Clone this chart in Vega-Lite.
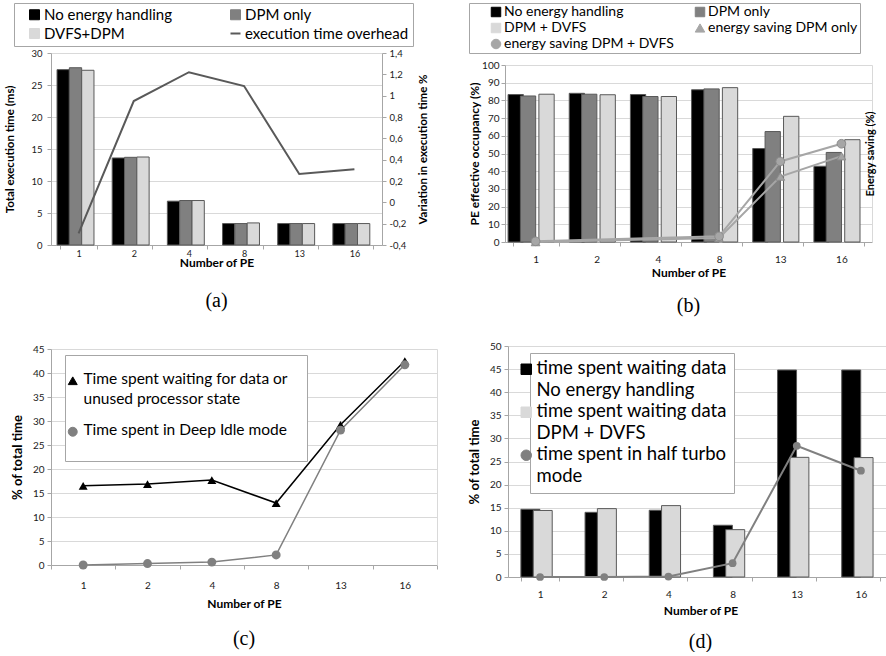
{
  "$schema": "https://vega.github.io/schema/vega-lite/v6.json",
  "background": "white",
  "padding": {"left": 4, "top": 2, "right": 0, "bottom": 0},
  "datasets": {
    "a_bars": [
      {"PE": 1, "series": "No energy handling", "time": 27.4},
      {"PE": 1, "series": "DPM only", "time": 27.7},
      {"PE": 1, "series": "DVFS+DPM", "time": 27.3},
      {"PE": 2, "series": "No energy handling", "time": 13.6},
      {"PE": 2, "series": "DPM only", "time": 13.7},
      {"PE": 2, "series": "DVFS+DPM", "time": 13.75},
      {"PE": 4, "series": "No energy handling", "time": 6.85},
      {"PE": 4, "series": "DPM only", "time": 6.95},
      {"PE": 4, "series": "DVFS+DPM", "time": 6.95},
      {"PE": 8, "series": "No energy handling", "time": 3.35},
      {"PE": 8, "series": "DPM only", "time": 3.35},
      {"PE": 8, "series": "DVFS+DPM", "time": 3.45},
      {"PE": 13, "series": "No energy handling", "time": 3.35},
      {"PE": 13, "series": "DPM only", "time": 3.35},
      {"PE": 13, "series": "DVFS+DPM", "time": 3.35},
      {"PE": 16, "series": "No energy handling", "time": 3.35},
      {"PE": 16, "series": "DPM only", "time": 3.35},
      {"PE": 16, "series": "DVFS+DPM", "time": 3.35}
    ],
    "a_line": [
      {"PE": 1, "series": "execution time overhead", "overhead": -0.29},
      {"PE": 2, "series": "execution time overhead", "overhead": 0.95},
      {"PE": 4, "series": "execution time overhead", "overhead": 1.22},
      {"PE": 8, "series": "execution time overhead", "overhead": 1.09},
      {"PE": 13, "series": "execution time overhead", "overhead": 0.265},
      {"PE": 16, "series": "execution time overhead", "overhead": 0.31}
    ],
    "b_bars": [
      {"PE": 1, "series": "No energy handling", "occupancy": 83.3},
      {"PE": 1, "series": "DPM only", "occupancy": 82.5},
      {"PE": 1, "series": "DPM + DVFS", "occupancy": 83.5},
      {"PE": 2, "series": "No energy handling", "occupancy": 84.0},
      {"PE": 2, "series": "DPM only", "occupancy": 83.5},
      {"PE": 2, "series": "DPM + DVFS", "occupancy": 83.2},
      {"PE": 4, "series": "No energy handling", "occupancy": 83.3},
      {"PE": 4, "series": "DPM only", "occupancy": 82.2},
      {"PE": 4, "series": "DPM + DVFS", "occupancy": 82.2},
      {"PE": 8, "series": "No energy handling", "occupancy": 86.0},
      {"PE": 8, "series": "DPM only", "occupancy": 86.5},
      {"PE": 8, "series": "DPM + DVFS", "occupancy": 87.2},
      {"PE": 13, "series": "No energy handling", "occupancy": 52.8},
      {"PE": 13, "series": "DPM only", "occupancy": 62.4},
      {"PE": 13, "series": "DPM + DVFS", "occupancy": 71.0},
      {"PE": 16, "series": "No energy handling", "occupancy": 42.8},
      {"PE": 16, "series": "DPM only", "occupancy": 50.6},
      {"PE": 16, "series": "DPM + DVFS", "occupancy": 57.8}
    ],
    "b_lines": [
      {"PE": 1, "series": "energy saving DPM only", "saving": 0},
      {"PE": 8, "series": "energy saving DPM only", "saving": 2.3},
      {"PE": 13, "series": "energy saving DPM only", "saving": 37.0},
      {"PE": 16, "series": "energy saving DPM only", "saving": 48.5},
      {"PE": 1, "series": "energy saving DPM + DVFS", "saving": 0.4},
      {"PE": 8, "series": "energy saving DPM + DVFS", "saving": 3.2},
      {"PE": 13, "series": "energy saving DPM + DVFS", "saving": 45.5},
      {"PE": 16, "series": "energy saving DPM + DVFS", "saving": 55.5}
    ],
    "c_lines": [
      {"PE": 1, "series": "Time spent waiting for data or unused processor state", "pct": 16.5},
      {"PE": 2, "series": "Time spent waiting for data or unused processor state", "pct": 16.85},
      {"PE": 4, "series": "Time spent waiting for data or unused processor state", "pct": 17.7},
      {"PE": 8, "series": "Time spent waiting for data or unused processor state", "pct": 12.9},
      {"PE": 13, "series": "Time spent waiting for data or unused processor state", "pct": 29.2},
      {"PE": 16, "series": "Time spent waiting for data or unused processor state", "pct": 42.5},
      {"PE": 1, "series": "Time spent in Deep Idle mode", "pct": 0.0},
      {"PE": 2, "series": "Time spent in Deep Idle mode", "pct": 0.3},
      {"PE": 4, "series": "Time spent in Deep Idle mode", "pct": 0.6},
      {"PE": 8, "series": "Time spent in Deep Idle mode", "pct": 2.1},
      {"PE": 13, "series": "Time spent in Deep Idle mode", "pct": 28.1},
      {"PE": 16, "series": "Time spent in Deep Idle mode", "pct": 41.7}
    ],
    "d_bars": [
      {"PE": 1, "series": "time spent waiting data No energy handling", "pct": 14.65},
      {"PE": 1, "series": "time spent waiting data DPM + DVFS", "pct": 14.4},
      {"PE": 2, "series": "time spent waiting data No energy handling", "pct": 14.0},
      {"PE": 2, "series": "time spent waiting data DPM + DVFS", "pct": 14.8},
      {"PE": 4, "series": "time spent waiting data No energy handling", "pct": 14.45},
      {"PE": 4, "series": "time spent waiting data DPM + DVFS", "pct": 15.45},
      {"PE": 8, "series": "time spent waiting data No energy handling", "pct": 11.2},
      {"PE": 8, "series": "time spent waiting data DPM + DVFS", "pct": 10.25},
      {"PE": 13, "series": "time spent waiting data No energy handling", "pct": 44.8},
      {"PE": 13, "series": "time spent waiting data DPM + DVFS", "pct": 25.9},
      {"PE": 16, "series": "time spent waiting data No energy handling", "pct": 44.8},
      {"PE": 16, "series": "time spent waiting data DPM + DVFS", "pct": 25.85}
    ],
    "d_line": [
      {"PE": 1, "series": "time spent in half turbo mode", "pct": 0.0},
      {"PE": 2, "series": "time spent in half turbo mode", "pct": 0.0},
      {"PE": 4, "series": "time spent in half turbo mode", "pct": 0.1},
      {"PE": 8, "series": "time spent in half turbo mode", "pct": 3.0},
      {"PE": 13, "series": "time spent in half turbo mode", "pct": 28.4},
      {"PE": 16, "series": "time spent in half turbo mode", "pct": 23.0}
    ]
  },
  "config": {
    "font": "Lato",
    "view": {"stroke": null},
    "axis": {
      "labelFont": "Lato", "labelColor": "#1a1a1a", "labelFontSize": 10,
      "titleFont": "Lato", "titleFontWeight": "bold", "titleColor": "#000000", "titleFontSize": 12,
      "domainColor": "#a6a6a6", "tickColor": "#a6a6a6", "gridColor": "#d9d9d9", "tickSize": 4
    },
    "legend": {"labelFont": "Lato", "labelColor": "#000000", "labelLimit": 500},
    "title": {"font": "Liberation Serif", "fontSize": 20, "fontWeight": "normal", "color": "#000000", "orient": "bottom", "anchor": "middle", "offset": 12}
  },
  "columns": 2,
  "align": "none",
  "spacing": {"row": 25, "column": 30},
  "resolve": {"scale": {"color": "independent", "shape": "independent"}, "legend": {"color": "independent", "shape": "independent"}},
  "concat": [
    {
      "width": 331, "height": 192,
      "title": {"text": "(a)", "offset": 23},
      "encoding": {
        "x": {"field": "PE", "type": "ordinal", "scale": {"type": "band", "paddingInner": 0.33, "paddingOuter": 0.165},
              "axis": {"title": "Number of PE", "labelAngle": 0, "tickBand": "extent", "labelFontSize": 9, "labelPadding": 0, "titlePadding": -1, "titleFontSize": 12}}
      },
      "layer": [
        {
          "data": {"name": "a_bars"},
          "mark": {"type": "bar", "stroke": "#595959", "strokeWidth": 1, "width": 12.3},
          "encoding": {
            "xOffset": {"field": "series", "type": "nominal", "sort": ["No energy handling", "DPM only", "DVFS+DPM"], "scale": {"paddingInner": 0, "paddingOuter": 0}},
            "y": {"field": "time", "type": "quantitative", "scale": {"domain": [0, 30]},
                  "axis": {"title": "Total execution time (ms)", "values": [0, 5, 10, 15, 20, 25, 30], "grid": true, "labelFontSize": 9.5, "labelPadding": 5, "titlePadding": 15, "titleFontSize": 11.5}},
            "color": {"field": "series", "type": "nominal",
              "scale": {"domain": ["No energy handling", "DPM only", "DVFS+DPM", "execution time overhead"], "range": ["#000000", "#808080", "#d9d9d9", "#595959"]},
              "legend": {
                "title": null, "orient": "none", "legendX": -37, "legendY": -50, "columns": 2, "direction": "horizontal",
                "labelFontSize": 15, "symbolSize": 100, "symbolOffset": 9, "columnPadding": 46, "rowPadding": 3, "padding": 4, "labelOffset": 2,
                "strokeColor": "#a6a6a6", "fillColor": "#ffffff",
                "encode": {"symbols": {"update": {
                  "shape": {"signal": "datum.value === 'execution time overhead' ? 'stroke' : 'square'"},
                  "fill": {"signal": "datum.value === 'No energy handling' ? '#000000' : datum.value === 'DPM only' ? '#808080' : datum.value === 'DVFS+DPM' ? '#d9d9d9' : 'transparent'"},
                  "stroke": {"value": "#595959"},
                  "strokeWidth": {"signal": "datum.value === 'execution time overhead' ? 2 : 1"},
                  "opacity": {"value": 1}
                }}}
              }}
          }
        },
        {
          "data": {"name": "a_line"},
          "mark": {"type": "line", "strokeWidth": 2},
          "encoding": {
            "y": {"field": "overhead", "type": "quantitative", "scale": {"domain": [-0.4, 1.4]},
                  "axis": {"orient": "right", "title": "Variation in execution time %", "titleAngle": 270, "values": [-0.4, -0.2, 0, 0.2, 0.4, 0.6, 0.8, 1, 1.2, 1.4], "grid": false,
                           "labelExpr": "replace(replace(format(datum.value, '.1~f'), '.', ','), '\u2212', '-')",
                           "labelFontSize": 9.5, "labelPadding": 3, "titlePadding": 23, "titleFontSize": 11.5}},
            "color": {"field": "series", "type": "nominal",
              "legend": {
                "title": null, "orient": "none", "legendX": -37, "legendY": -50, "columns": 2, "direction": "horizontal",
                "labelFontSize": 15, "symbolSize": 100, "symbolOffset": 9, "columnPadding": 46, "rowPadding": 3, "padding": 4, "labelOffset": 2,
                "strokeColor": "#a6a6a6", "fillColor": "#ffffff",
                "encode": {"symbols": {"update": {
                  "shape": {"signal": "datum.value === 'execution time overhead' ? 'stroke' : 'square'"},
                  "fill": {"signal": "datum.value === 'No energy handling' ? '#000000' : datum.value === 'DPM only' ? '#808080' : datum.value === 'DVFS+DPM' ? '#d9d9d9' : 'transparent'"},
                  "stroke": {"value": "#595959"},
                  "strokeWidth": {"signal": "datum.value === 'execution time overhead' ? 2 : 1"},
                  "opacity": {"value": 1}
                }}}
              }}
          }
        }
      ],
      "resolve": {"scale": {"y": "independent"}}
    },
    {
      "width": 367, "height": 189,
      "title": {"text": "(b)", "offset": 18},
      "encoding": {
        "x": {"field": "PE", "type": "ordinal", "scale": {"type": "band", "paddingInner": 0.25, "paddingOuter": 0.125},
              "axis": {"title": "Number of PE", "labelAngle": 0, "tickBand": "extent", "labelFontSize": 10, "labelPadding": 8, "titlePadding": 3, "titleFontSize": 12}}
      },
      "layer": [
        {
          "data": {"name": "b_bars"},
          "mark": {"type": "bar", "stroke": "#595959", "strokeWidth": 1, "width": 15.3},
          "encoding": {
            "xOffset": {"field": "series", "type": "nominal", "sort": ["No energy handling", "DPM only", "DPM + DVFS"], "scale": {"paddingInner": 0, "paddingOuter": 0}},
            "y": {"field": "occupancy", "type": "quantitative", "scale": {"domain": [0, 100], "range": [189, 12]},
                  "axis": {"title": "PE effective occupancy (%)", "values": [0, 10, 20, 30, 40, 50, 60, 70, 80, 90, 100], "grid": true, "labelFontSize": 10, "labelPadding": 2, "titlePadding": 0, "titleFontSize": 12}},
            "color": {"field": "series", "type": "nominal",
              "scale": {"domain": ["No energy handling", "DPM only", "DPM + DVFS", "energy saving DPM only", "energy saving DPM + DVFS"], "range": ["#000000", "#808080", "#d9d9d9", "#a6a6a6", "#a6a6a6"]},
              "legend": {
                "title": null, "orient": "none", "legendX": -36, "legendY": -50, "columns": 2, "direction": "horizontal",
                "labelFontSize": 14, "symbolSize": 90, "symbolOffset": 18, "columnPadding": -4, "rowPadding": 2, "padding": 2, "labelOffset": 1,
                "strokeColor": "#a6a6a6", "fillColor": "#ffffff",
                "encode": {"symbols": {"update": {
                  "shape": {"signal": "datum.value === 'energy saving DPM only' ? 'triangle-up' : datum.value === 'energy saving DPM + DVFS' ? 'circle' : 'square'"},
                  "fill": {"signal": "datum.value === 'No energy handling' ? '#000000' : datum.value === 'DPM only' ? '#808080' : datum.value === 'DPM + DVFS' ? '#d9d9d9' : '#a6a6a6'"},
                  "stroke": {"signal": "indexof(datum.value, 'energy saving') === 0 ? '#8c8c8c' : '#595959'"},
                  "strokeWidth": {"value": 1},
                  "opacity": {"value": 1}
                }}}
              }}
          }
        },
        {
          "data": {"name": "b_lines"},
          "mark": {"type": "line", "strokeWidth": 2},
          "encoding": {
            "y": {"field": "saving", "type": "quantitative", "scale": {"domain": [0, 100], "range": [189, 12]},
                  "axis": {"orient": "right", "title": "Energy saving (%)", "titleAngle": 270, "labels": false, "ticks": false, "grid": false, "domainColor": "#d9d9d9", "titlePadding": 3, "titleFontSize": 11}},
            "color": {"field": "series", "type": "nominal",
              "legend": {
                "title": null, "orient": "none", "legendX": -36, "legendY": -50, "columns": 2, "direction": "horizontal",
                "labelFontSize": 14, "symbolSize": 90, "symbolOffset": 18, "columnPadding": -4, "rowPadding": 2, "padding": 2, "labelOffset": 1,
                "strokeColor": "#a6a6a6", "fillColor": "#ffffff",
                "encode": {"symbols": {"update": {
                  "shape": {"signal": "datum.value === 'energy saving DPM only' ? 'triangle-up' : datum.value === 'energy saving DPM + DVFS' ? 'circle' : 'square'"},
                  "fill": {"signal": "datum.value === 'No energy handling' ? '#000000' : datum.value === 'DPM only' ? '#808080' : datum.value === 'DPM + DVFS' ? '#d9d9d9' : '#a6a6a6'"},
                  "stroke": {"signal": "indexof(datum.value, 'energy saving') === 0 ? '#8c8c8c' : '#595959'"},
                  "strokeWidth": {"value": 1},
                  "opacity": {"value": 1}
                }}}
              }}
          }
        },
        {
          "data": {"name": "b_lines"},
          "mark": {"type": "point", "filled": true, "size": 75, "stroke": "#8c8c8c", "strokeWidth": 1, "opacity": 1},
          "encoding": {
            "y": {"field": "saving", "type": "quantitative", "scale": {"domain": [0, 100], "range": [189, 12]}, "axis": null},
            "color": {"field": "series", "type": "nominal",
              "legend": {
                "title": null, "orient": "none", "legendX": -36, "legendY": -50, "columns": 2, "direction": "horizontal",
                "labelFontSize": 14, "symbolSize": 90, "symbolOffset": 18, "columnPadding": -4, "rowPadding": 2, "padding": 2, "labelOffset": 1,
                "strokeColor": "#a6a6a6", "fillColor": "#ffffff",
                "encode": {"symbols": {"update": {
                  "shape": {"signal": "datum.value === 'energy saving DPM only' ? 'triangle-up' : datum.value === 'energy saving DPM + DVFS' ? 'circle' : 'square'"},
                  "fill": {"signal": "datum.value === 'No energy handling' ? '#000000' : datum.value === 'DPM only' ? '#808080' : datum.value === 'DPM + DVFS' ? '#d9d9d9' : '#a6a6a6'"},
                  "stroke": {"signal": "indexof(datum.value, 'energy saving') === 0 ? '#8c8c8c' : '#595959'"},
                  "strokeWidth": {"value": 1},
                  "opacity": {"value": 1}
                }}}
              }},
            "shape": {"field": "series", "type": "nominal", "scale": {"domain": ["energy saving DPM only", "energy saving DPM + DVFS"], "range": ["triangle-up", "circle"]}, "legend": null}
          }
        }
      ],
      "resolve": {"scale": {"y": "independent"}}
    },
    {
      "width": 386, "height": 224,
      "title": {"text": "(c)", "offset": 20},
      "encoding": {
        "x": {"field": "PE", "type": "ordinal", "scale": {"type": "band", "paddingInner": 0, "paddingOuter": 0},
              "axis": {"title": "Number of PE", "labelAngle": 0, "tickBand": "extent", "labelFontSize": 10, "labelPadding": 11, "titlePadding": 8, "titleFontSize": 12}},
        "y": {"field": "pct", "type": "quantitative", "scale": {"domain": [0, 45], "range": [224, 8]},
              "axis": {"title": "% of total time", "values": [0, 5, 10, 15, 20, 25, 30, 35, 40, 45], "grid": true, "labelFontSize": 10, "labelPadding": 3, "titlePadding": 8, "titleFontSize": 13}}
      },
      "layer": [
        {
          "data": {"name": "c_lines"},
          "mark": {"type": "line", "strokeWidth": 1.5},
          "encoding": {
            "color": {"field": "series", "type": "nominal",
              "scale": {"domain": ["Time spent waiting for data or unused processor state", "Time spent in Deep Idle mode"], "range": ["#000000", "#808080"]},
              "legend": {
                "title": " ", "titleOrient": "bottom", "titleFontSize": 5, "titlePadding": 0,
                "orient": "none", "legendX": 14, "legendY": 14,
                "labelFontSize": 15.5, "symbolSize": 80, "symbolOffset": -18, "rowPadding": 14, "padding": 18, "labelOffset": 3,
                "labelBaseline": "top",
                "labelExpr": "datum.label === 'Time spent waiting for data or unused processor state' ? ['Time spent waiting for data or', 'unused processor state'] : datum.label",
                "strokeColor": "#a6a6a6", "fillColor": "#ffffff",
                "encode": {
                  "symbols": {"update": {
                    "shape": {"signal": "datum.value === 'Time spent in Deep Idle mode' ? 'circle' : 'triangle-up'"},
                    "fill": {"signal": "datum.value === 'Time spent in Deep Idle mode' ? '#808080' : '#000000'"},
                    "stroke": {"signal": "datum.value === 'Time spent in Deep Idle mode' ? '#808080' : '#000000'"},
                    "strokeWidth": {"value": 1},
                    "opacity": {"value": 1}
                  }},
                  "labels": {"update": {"dy": {"value": -9}, "lineHeight": {"value": 20}}}
                }
              }}
          }
        },
        {
          "data": {"name": "c_lines"},
          "mark": {"type": "point", "filled": true, "size": 80, "opacity": 1},
          "encoding": {
            "y": {"field": "pct", "type": "quantitative",
                  "axis": {"orient": "right", "title": null, "labels": false, "ticks": false, "grid": false, "domainColor": "#d9d9d9"}},
            "color": {"field": "series", "type": "nominal",
              "legend": {
                "title": " ", "titleOrient": "bottom", "titleFontSize": 5, "titlePadding": 0,
                "orient": "none", "legendX": 14, "legendY": 14,
                "labelFontSize": 15.5, "symbolSize": 80, "symbolOffset": -18, "rowPadding": 14, "padding": 18, "labelOffset": 3,
                "labelBaseline": "top",
                "labelExpr": "datum.label === 'Time spent waiting for data or unused processor state' ? ['Time spent waiting for data or', 'unused processor state'] : datum.label",
                "strokeColor": "#a6a6a6", "fillColor": "#ffffff",
                "encode": {
                  "symbols": {"update": {
                    "shape": {"signal": "datum.value === 'Time spent in Deep Idle mode' ? 'circle' : 'triangle-up'"},
                    "fill": {"signal": "datum.value === 'Time spent in Deep Idle mode' ? '#808080' : '#000000'"},
                    "stroke": {"signal": "datum.value === 'Time spent in Deep Idle mode' ? '#808080' : '#000000'"},
                    "strokeWidth": {"value": 1},
                    "opacity": {"value": 1}
                  }},
                  "labels": {"update": {"dy": {"value": -9}, "lineHeight": {"value": 20}}}
                }
              }},
            "shape": {"field": "series", "type": "nominal", "scale": {"domain": ["Time spent waiting for data or unused processor state", "Time spent in Deep Idle mode"], "range": ["triangle-up", "circle"]}, "legend": null}
          }
        }
      ],
      "resolve": {"axis": {"y": "independent"}}
    },
    {
      "width": 385, "height": 231,
      "title": {"text": "(d)", "offset": 16},
      "encoding": {
        "x": {"field": "PE", "type": "ordinal", "scale": {"type": "band", "paddingInner": 0.41, "paddingOuter": 0.205},
              "axis": {"title": "Number of PE", "labelAngle": 0, "tickBand": "extent", "labelFontSize": 10, "labelPadding": 8, "titlePadding": 6, "titleFontSize": 12}},
        "y": {"field": "pct", "type": "quantitative", "scale": {"domain": [0, 50]},
              "axis": {"title": "% of total time", "values": [0, 5, 10, 15, 20, 25, 30, 35, 40, 45, 50], "grid": true, "labelFontSize": 10, "labelPadding": 3, "titlePadding": 8, "titleFontSize": 13}}
      },
      "layer": [
        {
          "data": {"name": "d_bars"},
          "mark": {"type": "bar", "stroke": "#595959", "strokeWidth": 1, "width": 19},
          "encoding": {
            "xOffset": {"field": "series", "type": "nominal", "sort": ["time spent waiting data No energy handling", "time spent waiting data DPM + DVFS"], "scale": {"paddingInner": 0, "paddingOuter": 0}},
            "color": {"field": "series", "type": "nominal",
              "scale": {"domain": ["time spent waiting data No energy handling", "time spent waiting data DPM + DVFS", "time spent in half turbo mode"], "range": ["#000000", "#d9d9d9", "#808080"]},
              "legend": {
                "title": null, "orient": "none", "legendX": 22, "legendY": 7,
                "labelFontSize": 18.5, "symbolSize": 110, "symbolOffset": -20, "rowPadding": 2, "padding": 7, "labelOffset": 1,
                "labelBaseline": "top",
                "labelExpr": "datum.label === 'time spent waiting data No energy handling' ? ['time spent waiting data', 'No energy handling'] : datum.label === 'time spent waiting data DPM + DVFS' ? ['time spent waiting data', 'DPM + DVFS'] : ['time spent in half turbo', 'mode']",
                "strokeColor": "#a6a6a6", "fillColor": "#ffffff",
                "encode": {
                  "symbols": {"update": {
                    "shape": {"signal": "datum.value === 'time spent in half turbo mode' ? 'circle' : 'square'"},
                    "fill": {"signal": "datum.value === 'time spent in half turbo mode' ? '#808080' : datum.value === 'time spent waiting data DPM + DVFS' ? '#d9d9d9' : '#000000'"},
                    "stroke": {"signal": "datum.value === 'time spent in half turbo mode' ? '#808080' : '#595959'"},
                    "strokeWidth": {"value": 1},
                    "opacity": {"value": 1}
                  }},
                  "labels": {"update": {"dy": {"value": -10}, "lineHeight": {"value": 22}}}
                }
              }}
          }
        },
        {
          "data": {"name": "d_line"},
          "mark": {"type": "line", "strokeWidth": 2},
          "encoding": {
            "color": {"field": "series", "type": "nominal",
              "legend": {
                "title": null, "orient": "none", "legendX": 22, "legendY": 7,
                "labelFontSize": 18.5, "symbolSize": 110, "symbolOffset": -20, "rowPadding": 2, "padding": 7, "labelOffset": 1,
                "labelBaseline": "top",
                "labelExpr": "datum.label === 'time spent waiting data No energy handling' ? ['time spent waiting data', 'No energy handling'] : datum.label === 'time spent waiting data DPM + DVFS' ? ['time spent waiting data', 'DPM + DVFS'] : ['time spent in half turbo', 'mode']",
                "strokeColor": "#a6a6a6", "fillColor": "#ffffff",
                "encode": {
                  "symbols": {"update": {
                    "shape": {"signal": "datum.value === 'time spent in half turbo mode' ? 'circle' : 'square'"},
                    "fill": {"signal": "datum.value === 'time spent in half turbo mode' ? '#808080' : datum.value === 'time spent waiting data DPM + DVFS' ? '#d9d9d9' : '#000000'"},
                    "stroke": {"signal": "datum.value === 'time spent in half turbo mode' ? '#808080' : '#595959'"},
                    "strokeWidth": {"value": 1},
                    "opacity": {"value": 1}
                  }},
                  "labels": {"update": {"dy": {"value": -10}, "lineHeight": {"value": 22}}}
                }
              }}
          }
        },
        {
          "data": {"name": "d_line"},
          "mark": {"type": "point", "filled": true, "size": 60, "opacity": 1},
          "encoding": {
            "color": {"field": "series", "type": "nominal",
              "legend": {
                "title": null, "orient": "none", "legendX": 22, "legendY": 7,
                "labelFontSize": 18.5, "symbolSize": 110, "symbolOffset": -20, "rowPadding": 2, "padding": 7, "labelOffset": 1,
                "labelBaseline": "top",
                "labelExpr": "datum.label === 'time spent waiting data No energy handling' ? ['time spent waiting data', 'No energy handling'] : datum.label === 'time spent waiting data DPM + DVFS' ? ['time spent waiting data', 'DPM + DVFS'] : ['time spent in half turbo', 'mode']",
                "strokeColor": "#a6a6a6", "fillColor": "#ffffff",
                "encode": {
                  "symbols": {"update": {
                    "shape": {"signal": "datum.value === 'time spent in half turbo mode' ? 'circle' : 'square'"},
                    "fill": {"signal": "datum.value === 'time spent in half turbo mode' ? '#808080' : datum.value === 'time spent waiting data DPM + DVFS' ? '#d9d9d9' : '#000000'"},
                    "stroke": {"signal": "datum.value === 'time spent in half turbo mode' ? '#808080' : '#595959'"},
                    "strokeWidth": {"value": 1},
                    "opacity": {"value": 1}
                  }},
                  "labels": {"update": {"dy": {"value": -10}, "lineHeight": {"value": 22}}}
                }
              }}
          }
        }
      ]
    }
  ]
}
